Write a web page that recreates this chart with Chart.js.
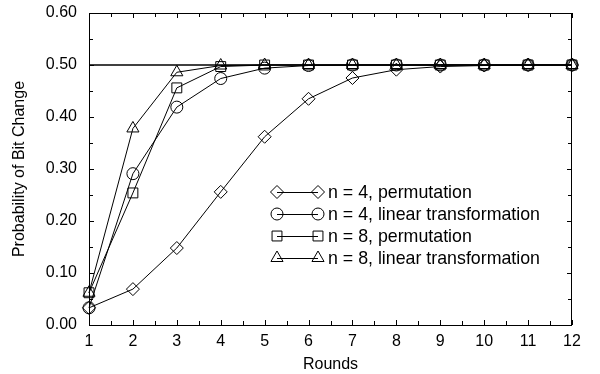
<!DOCTYPE html>
<html>
<head>
<meta charset="utf-8">
<script src="https://cdn.jsdelivr.net/npm/chart.js@4/dist/chart.umd.min.js"></script>
<style>
  html, body { margin: 0; padding: 0; background: #fff; }
  #wrap { width: 600px; height: 374px; position: relative; }
</style>
</head>
<body>
<div id="wrap"><canvas id="chart"></canvas></div>
<script>
// Data
const rounds = [1, 2, 3, 4, 5, 6, 7, 8, 9, 10, 11, 12];
const n4Permutation = [0.033, 0.069, 0.148, 0.256, 0.362, 0.435, 0.475, 0.491, 0.497, 0.499, 0.500, 0.500];
const n4Linear      = [0.033, 0.291, 0.419, 0.474, 0.494, 0.499, 0.500, 0.500, 0.500, 0.500, 0.500, 0.500];
const n8Permutation = [0.062, 0.254, 0.456, 0.497, 0.500, 0.500, 0.500, 0.500, 0.500, 0.500, 0.500, 0.500];
const n8Linear      = [0.062, 0.378, 0.486, 0.499, 0.500, 0.500, 0.500, 0.500, 0.500, 0.500, 0.500, 0.500];
const seriesLabels = [
  'n = 4, permutation',
  'n = 4, linear transformation',
  'n = 8, permutation',
  'n = 8, linear transformation'
];
const idealLevel = 0.5;
const xTicks = rounds;
const yTicks = [0, 0.1, 0.2, 0.3, 0.4, 0.5, 0.6];

const FONT = 'Liberation Sans, Arial, Helvetica, sans-serif';
const INK = '#000';

// Marker styles per series
const markers = [
  { pointStyle: 'rectRot', radius: 6.5 },
  { pointStyle: 'circle', radius: 6 },
  { pointStyle: 'rect', radius: 7 },
  { pointStyle: 'triangle', radius: 7 }
];

const toPoints = (vals) => vals.map((v, i) => ({ x: rounds[i], y: v }));

const lineDataset = (label, vals, m) => ({
  label,
  data: toPoints(vals),
  borderColor: INK,
  borderWidth: 1,
  tension: 0,
  clip: false,
  pointStyle: m.pointStyle,
  pointRadius: m.radius,
  pointHoverRadius: m.radius,
  pointBorderColor: INK,
  pointBorderWidth: 1,
  pointBackgroundColor: 'rgba(0,0,0,0)'
});

// Draws the box, inward ticks on all four sides, and the in-plot legend
const framePlugin = {
  id: 'frame',
  afterDatasetsDraw(chart) {
    const { ctx, chartArea: a, scales } = chart;
    const xs = scales.x, ys = scales.y;
    ctx.save();
    ctx.strokeStyle = INK;
    ctx.lineWidth = 1;
    ctx.strokeRect(a.left + 0.5, a.top + 0.5, a.right - a.left - 1, a.bottom - a.top);

    ctx.beginPath();
    for (let v = 1; v <= 12.001; v += 0.5) {
      const len = Number.isInteger(v) ? 5 : 4;
      const px = Math.round(xs.getPixelForValue(v)) + 0.5;
      ctx.moveTo(px, a.bottom); ctx.lineTo(px, a.bottom - len);
      ctx.moveTo(px, a.top); ctx.lineTo(px, a.top + len);
    }
    for (let i = 0; i <= 12; i++) {
      const v = i * 0.05;
      const len = i % 2 === 0 ? 5 : 4;
      const py = Math.round(ys.getPixelForValue(v)) + 0.5;
      ctx.moveTo(a.left, py); ctx.lineTo(a.left + len, py);
      ctx.moveTo(a.right, py); ctx.lineTo(a.right - len, py);
    }
    ctx.stroke();

    // legend: marker — line — marker, then label
    const x0 = a.left + 188, x1 = a.left + 229, tx = a.left + 239;
    const y0 = a.top + 179, step = 22;
    ctx.font = '17.8px ' + FONT;
    ctx.textBaseline = 'middle';
    ctx.fillStyle = INK;
    seriesLabels.forEach((lab, i) => {
      const y = y0 + i * step;
      ctx.beginPath();
      ctx.moveTo(x0, y + 0.5); ctx.lineTo(x1, y + 0.5);
      ctx.stroke();
      const opts = {
        pointStyle: markers[i].pointStyle,
        radius: markers[i].radius,
        rotation: 0,
        borderWidth: 1
      };
      ctx.fillStyle = 'rgba(0,0,0,0)';
      Chart.helpers.drawPoint(ctx, opts, x0, y);
      Chart.helpers.drawPoint(ctx, opts, x1, y);
      ctx.fillStyle = INK;
      ctx.fillText(lab, tx, y + 1);
    });
    ctx.restore();
  }
};

const tickFont = { family: FONT, size: 16 };

new Chart(document.getElementById('chart'), {
  type: 'line',
  data: {
    datasets: [
      lineDataset(seriesLabels[0], n4Permutation, markers[0]),
      lineDataset(seriesLabels[1], n4Linear, markers[1]),
      lineDataset(seriesLabels[2], n8Permutation, markers[2]),
      lineDataset(seriesLabels[3], n8Linear, markers[3]),
      {
        label: 'ideal',
        data: [{ x: rounds[0], y: idealLevel }, { x: rounds[rounds.length - 1], y: idealLevel }],
        borderColor: INK,
        borderWidth: 1.6,
        pointRadius: 0
      }
    ]
  },
  options: {
    responsive: true,
    maintainAspectRatio: false,
    animation: false,
    events: [],
    layout: { padding: { top: 13, right: 28, left: 0, bottom: 0 } },
    plugins: {
      legend: { display: false },
      tooltip: { enabled: false }
    },
    scales: {
      x: {
        type: 'linear',
        min: 1,
        max: 12,
        afterBuildTicks: (s) => { s.ticks = xTicks.map(v => ({ value: v })); },
        afterFit: (s) => { s.height = 49; s.paddingLeft = 0; s.paddingRight = 0; },
        grid: { display: false, drawTicks: false },
        border: { display: false },
        ticks: { color: INK, font: tickFont, padding: 7, maxRotation: 0 },
        title: {
          display: true,
          text: 'Rounds',
          color: INK,
          font: tickFont,
          padding: { top: 0, bottom: 0 }
        }
      },
      y: {
        type: 'linear',
        min: 0,
        max: 0.6,
        afterBuildTicks: (s) => { s.ticks = yTicks.map(v => ({ value: v })); },
        afterFit: (s) => { s.width = 89; s.paddingTop = 0; s.paddingBottom = 0; },
        grid: { display: false, drawTicks: false },
        border: { display: false },
        ticks: {
          color: INK,
          font: tickFont,
          padding: 12,
          callback: (v) => Number(v).toFixed(2)
        },
        title: {
          display: true,
          text: 'Probability of Bit Change',
          color: INK,
          font: tickFont,
          padding: { top: 10, bottom: 0 }
        }
      }
    }
  },
  plugins: [framePlugin]
});
</script>
</body>
</html>
